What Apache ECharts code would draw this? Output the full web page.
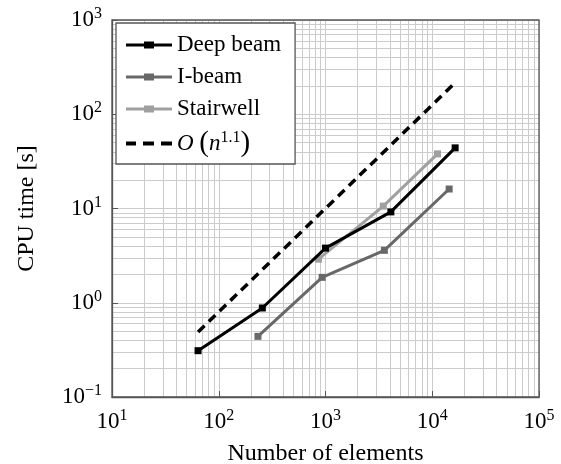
<!DOCTYPE html>
<html><head><meta charset="utf-8">
<script src="https://cdn.jsdelivr.net/npm/echarts@6/dist/echarts.min.js"></script>
<style>html,body{margin:0;padding:0;background:#fff}#c{width:561px;height:464px}</style>
</head><body><div id="c"></div>
<script>
const deepBeam = [[64, 0.31], [256, 0.88], [1000, 3.8], [4096, 9.2], [16384, 44]];
const iBeam = [[233, 0.44], [930, 1.86], [3560, 3.6], [14400, 16.1]];
const stairwell = [[860, 2.9], [3480, 10.6], [11200, 38]];
const refLine = [[64, 0.49], [16384, 216]];
const xMinorGrid = [20,30,40,50,60,70,80,90,200,300,400,500,600,700,800,900,2000,3000,4000,5000,6000,7000,8000,9000,20000,30000,40000,50000,60000,70000,80000,90000];
const yMinorGrid = [0.2,0.3,0.4,0.5,0.6,0.7,0.8,0.9,2,3,4,5,6,7,8,9,20,30,40,50,60,70,80,90,200,300,400,500,600,700,800,900];

const FONT = '"Liberation Serif", "DejaVu Serif", serif';
const GRID = '#cccccc';
const AX = '#555555';
const labelStyle = {
  fontFamily: FONT, fontSize: 23, color: '#000', margin: 10,
  rich: {
    b: { fontFamily: FONT, fontSize: 23, color: '#000' },
    s: { fontFamily: FONT, fontSize: 16, color: '#000', padding: [0, 0, 12, 0] }
  }
};
function powLabel(v) {
  const e = Math.round(Math.log10(v));
  return '{b|10}{s|' + (e < 0 ? '\u2212' + (-e) : e) + '}';
}
const ICON_SOLID = 'path://M0,5.5h18v3h-18z M28,5.5h18v3h-18z M18,3.5h10v7h-10z';
const ICON_DASH = 'path://M0,5h10v4h-10z M17,5h11v4h-11z M35,5h11v4h-11z';
const chart = echarts.init(document.getElementById('c'), null, { renderer: 'canvas' });
const gridMarks = xMinorGrid.map(v => ({ xAxis: v })).concat(yMinorGrid.map(v => ({ yAxis: v })));
chart.setOption({
  animation: false,
  backgroundColor: '#fff',
  grid: { left: 112, top: 20, width: 427, height: 377, containLabel: false, outerBoundsMode: 'none',
    show: true, borderColor: AX, borderWidth: 1.3, backgroundColor: 'transparent', z: 1 },
  xAxis: {
    type: 'log', logBase: 10, min: 10, max: 100000,
    name: 'Number of elements', nameLocation: 'middle', nameGap: 45,
    nameTextStyle: { fontFamily: FONT, fontSize: 24, color: '#000' },
    axisLine: { show: true, lineStyle: { color: AX, width: 1.3 } },
    axisTick: { show: true, inside: true, length: 6, lineStyle: { color: AX } },
    splitLine: { show: true, lineStyle: { color: GRID, width: 1 } },
    axisLabel: Object.assign({ formatter: powLabel }, labelStyle, { margin: 11 })
  },
  yAxis: {
    type: 'log', logBase: 10, min: 0.1, max: 1000,
    name: 'CPU time [s]', nameLocation: 'middle', nameGap: 73, nameRotate: 90,
    nameTextStyle: { fontFamily: FONT, fontSize: 24, color: '#000' },
    axisLine: { show: true, lineStyle: { color: AX, width: 1.3 } },
    axisTick: { show: true, inside: true, length: 6, lineStyle: { color: AX } },
    splitLine: { show: true, lineStyle: { color: GRID, width: 1 } },
    axisLabel: Object.assign({ formatter: powLabel }, labelStyle)
  },
  legend: {
    left: 116, top: 23, orient: 'vertical', z: 20,
    padding: [10, 14, 6, 10], itemGap: 8, itemWidth: 46, itemHeight: 14,
    symbolKeepAspect: true,
    backgroundColor: '#fff', borderColor: AX, borderWidth: 1.3,
    textStyle: { fontFamily: FONT, fontSize: 23, color: '#000', lineHeight: 24,
      rich: { i: { fontFamily: FONT, fontSize: 23, fontStyle: 'italic', color: '#000' },
              p: { fontFamily: FONT, fontSize: 29, color: '#000' },
              s: { fontFamily: FONT, fontSize: 16, color: '#000', padding: [0, 0, 12, 0] } } },
    formatter: n => n === 'O(n^1.1)' ? '{i|O} {p|(}{i|n}{s|1.1}{p|)}' : n,
    data: [
      { name: 'Deep beam', icon: ICON_SOLID },
      { name: 'I-beam', icon: ICON_SOLID },
      { name: 'Stairwell', icon: ICON_SOLID },
      { name: 'O(n^1.1)', icon: ICON_DASH }
    ]
  },
  series: [
    { name: 'grid', type: 'line', data: [], z: 0, silent: true,
      markLine: { z: 0, silent: true, symbol: 'none', label: { show: false }, animation: false,
        lineStyle: { color: GRID, width: 1, type: 'solid' }, data: gridMarks } },
    { name: 'O(n^1.1)', type: 'line', data: refLine, symbol: 'none', z: 3,
      lineStyle: { color: '#000', width: 3.5, type: [9, 6] }, itemStyle: { color: '#000' } },
    { name: 'Stairwell', type: 'line', data: stairwell, symbol: 'rect', symbolSize: 7, z: 4,
      lineStyle: { color: '#a0a0a0', width: 3 }, itemStyle: { color: '#a0a0a0' } },
    { name: 'I-beam', type: 'line', data: iBeam, symbol: 'rect', symbolSize: 7, z: 5,
      lineStyle: { color: '#686868', width: 3 }, itemStyle: { color: '#686868' } },
    { name: 'Deep beam', type: 'line', data: deepBeam, symbol: 'rect', symbolSize: 7, z: 6,
      lineStyle: { color: '#000', width: 3 }, itemStyle: { color: '#000' } }
  ]
});
</script></body></html>
